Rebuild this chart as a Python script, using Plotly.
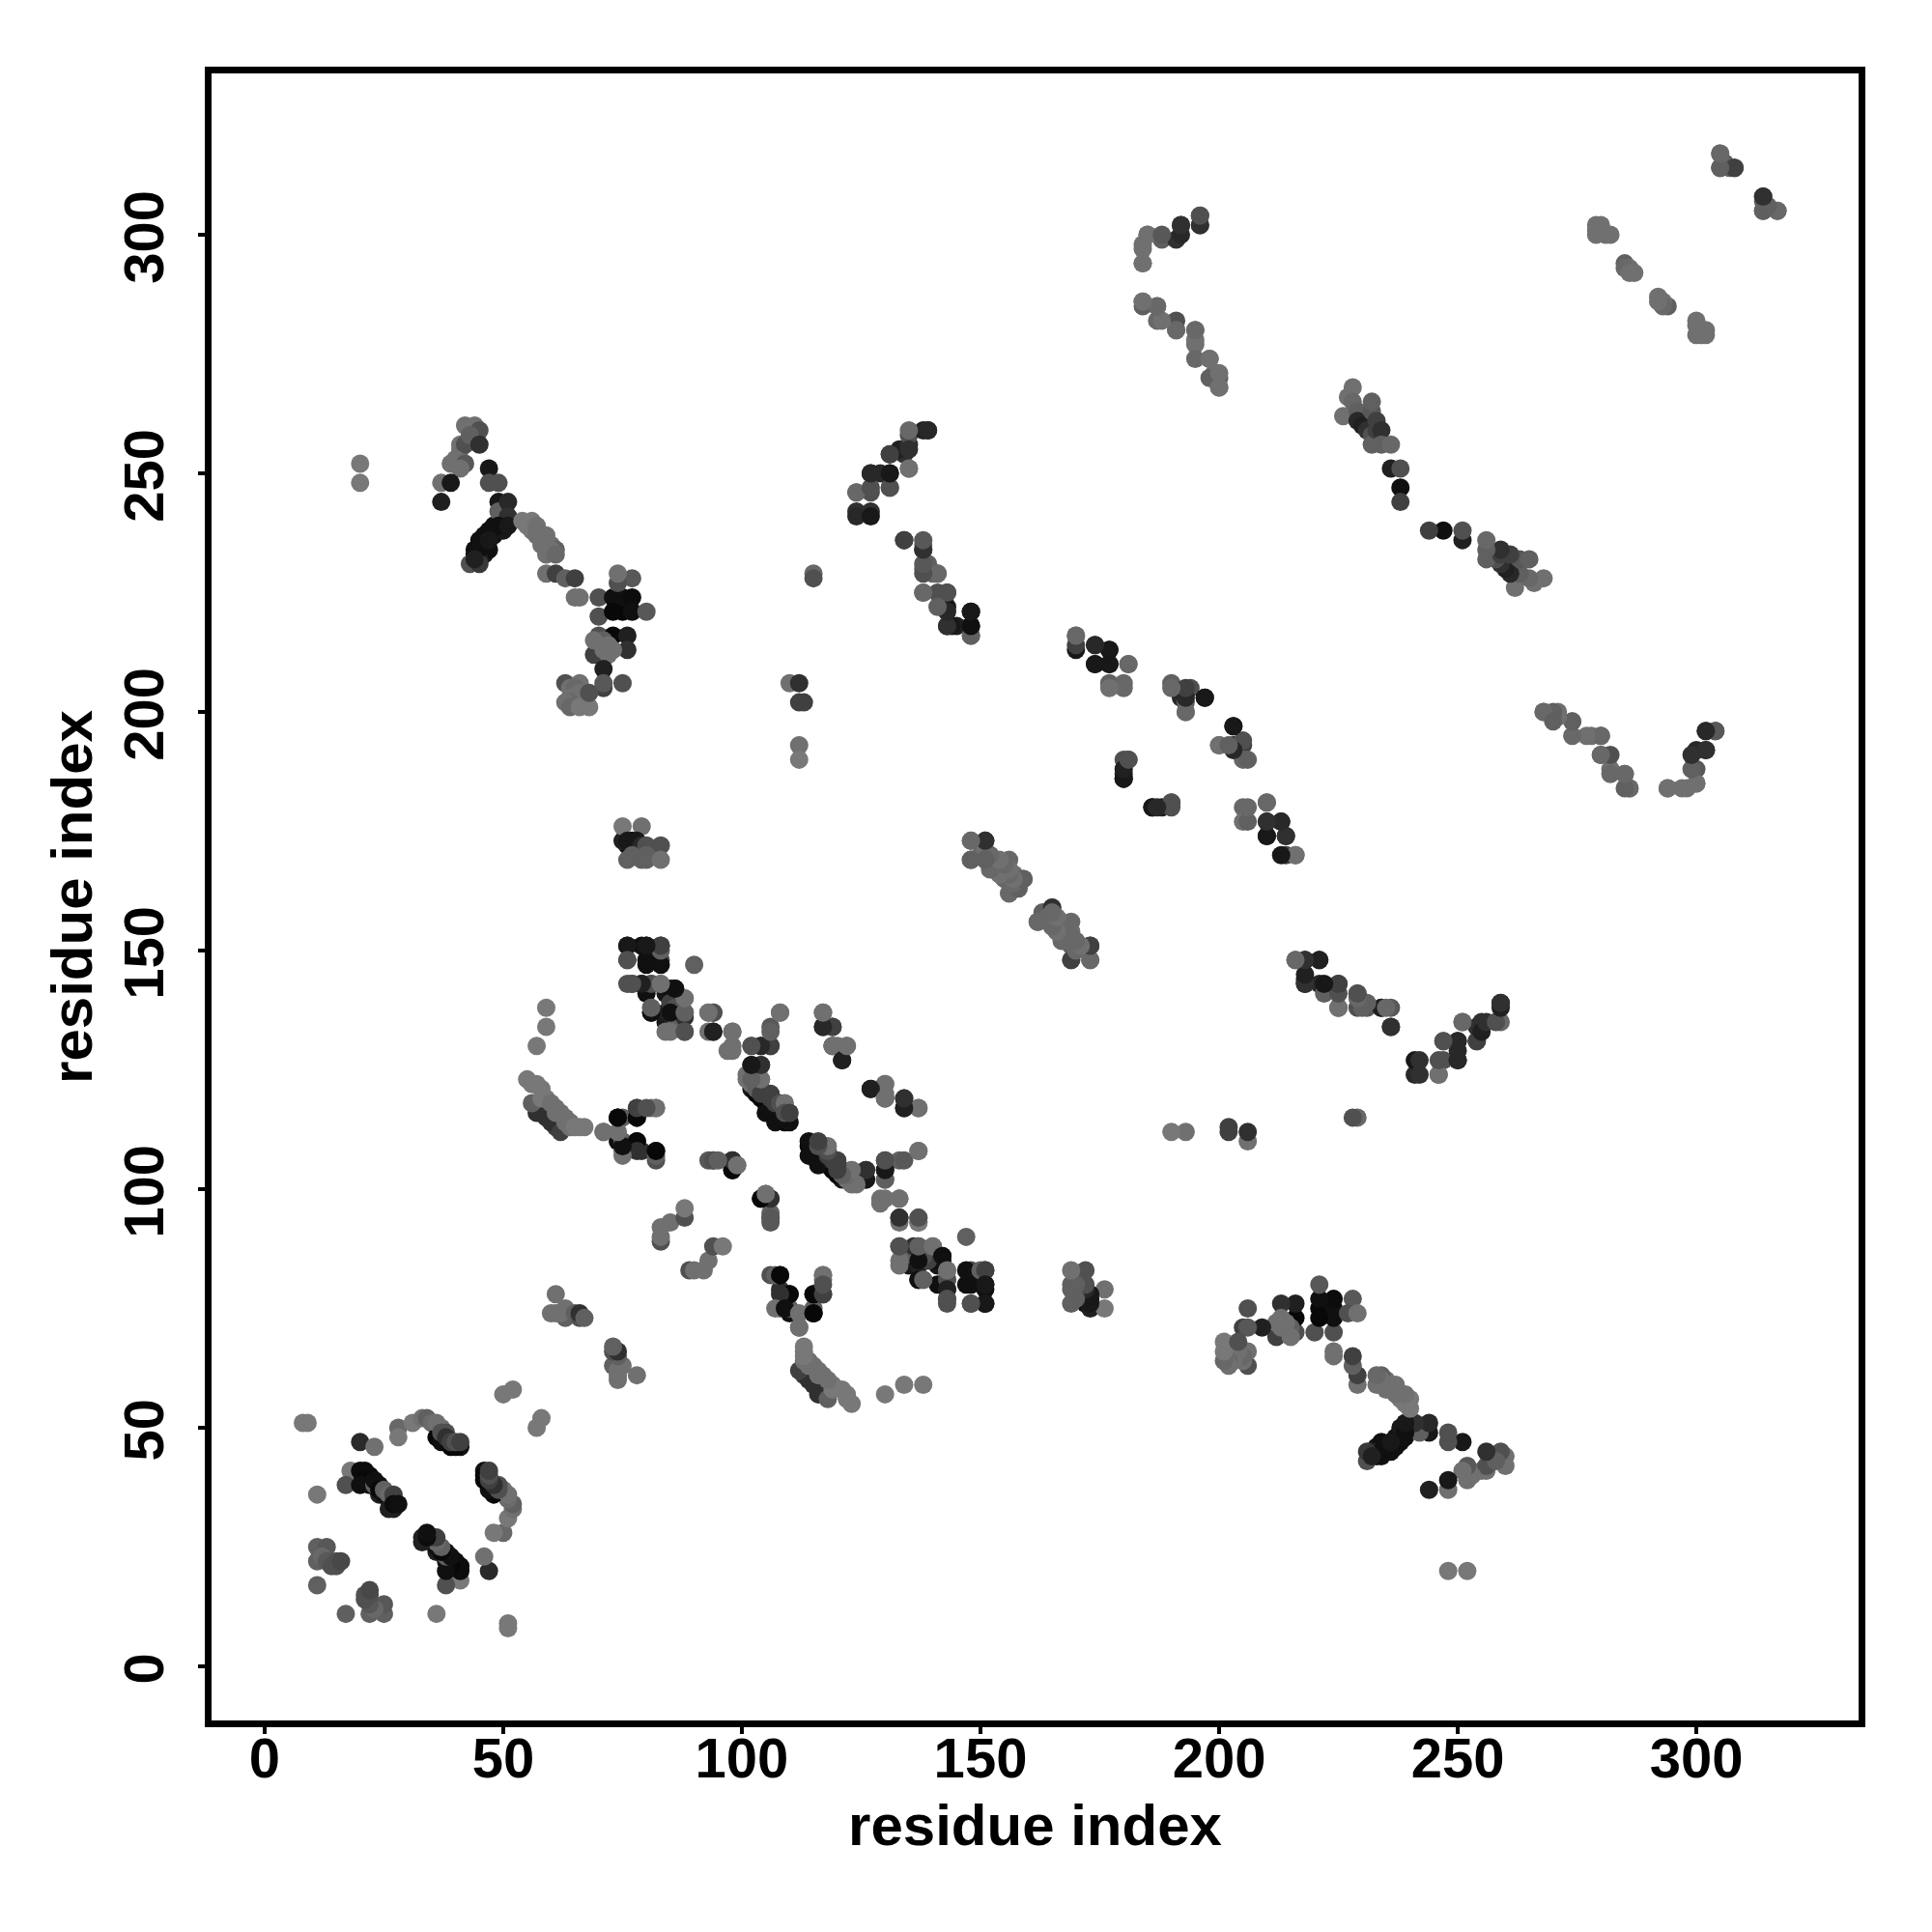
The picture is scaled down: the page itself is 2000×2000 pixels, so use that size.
import plotly.graph_objects as go

# (residue i, residue j, grey level); the map is symmetric so each contact is drawn both ways
dense_dark = [(22,40,0x08),(24,38,0x10),(26,35,0x10),(22,38,0x10),(24,36,0x20),(27,33,0x20),(38,47,0x10),(41,46,0x10),
    (102,121,0x18),(103,120,0x08),(104,119,0x08),(105,118,0x08),(106,117,0x08),(107,116,0x08),(108,115,0x08),(109,114,0x08),(110,114,0x10),(105,116,0x10),(107,114,0x10),
    (44,233,0x10),(44,234,0x10),(46,233,0x18),(46,235,0x10),(46,237,0x10),(47,234,0x10),(48,237,0x10),(48,239,0x10),(50,240,0x18),(50,238,0x18),(45,232,0x20),
    (74,223,0x10),(76,223,0x10),(75,221,0x08),(75,224,0x10),(57,117,0x30),(59,115,0x30),(61,113,0x40),(84,141,0x18),(84,135,0x18),
    (76,172,0x10),(75,173,0x20),(77,173,0x10)]
near_diagonal = [(8,51,0x78),(9,51,0x78),(20,47,0x2a),(23,46,0x70),(28,50,0x68),(28,48,0x78),(31,51,0x78),(33,52,0x70),
    (34,52,0x60),(35,51,0x6a),(36,48,0x08),(37,47,0x10),(39,46,0x08),(40,46,0x08),(36,51,0x70),(37,50,0x70),(38,49,0x50),(37,49,0x50),(38,48,0x30),(39,47,0x40),(40,47,0x50),(41,47,0x40),
    (18,41,0x78),(17,38,0x50),(11,36,0x78),(20,41,0x0c),(21,41,0x0c),(21,39,0x08),(20,38,0x10),(23,38,0x60),(23,39,0x10),
    (24,37,0x08),(25,36,0x10),(25,37,0x60),(26,36,0x68),(26,33,0x20),(27,35,0x50),(27,36,0x40),(27,34,0x0c),(28,34,0x10),
    (11,25,0x60),(13,25,0x58),(11,22,0x60),(12,23,0x68),(13,22,0x58),(14,21,0x50),(15,21,0x50),(15,22,0x50),(16,22,0x48),(11,17,0x60),
    (50,57,0x78),(52,58,0x78),(61,78,0x70),(60,74,0x70),(61,74,0x70),(63,73,0x60),(63,75,0x70),(62,74,0x70),(65,74,0x60),(66,73,0x50),(66,74,0x30),(67,73,0x60),
    (83,89,0x50),(83,90,0x70),(85,93,0x70),(88,94,0x50),(88,96,0x78),(83,92,0x70)]
helix_60_120 = [(59,138,0x78),(59,134,0x78),(57,130,0x78),(57,116,0x30),(60,114,0x30),(62,112,0x40),(56,118,0x60),(55,123,0x78),(57,122,0x78),(56,122,0x78),(58,121,0x78),
    (58,119,0x78),(59,119,0x78),(60,118,0x70),(61,117,0x70),(61,116,0x70),(62,116,0x70),(63,115,0x70),(63,114,0x70),(64,114,0x70),(64,113,0x70),(65,113,0x78),(66,113,0x78),(67,113,0x78),(71,112,0x70),(74,115,0x18),(75,115,0x60),(78,115,0x10),(78,117,0x40),(81,117,0x70),(82,117,0x70),
    (74,110,0x10),(75,108,0x68),(78,110,0x10),(75,110,0x60),(79,108,0x30),(82,106,0x50),(82,108,0x10)]
block_80_150 = [(76,151,0x10),(79,151,0x10),(80,151,0x10),(83,151,0x10),(76,148,0x40),(80,148,0x10),(83,148,0x50),(90,147,0x60),
    (76,143,0x50),(79,143,0x10),(81,143,0x60),(83,143,0x70),(80,141,0x10),(77,143,0x50),(85,142,0x10),(86,142,0x10),(88,140,0x70),(85,140,0x10),(81,137,0x10),(81,138,0x60),
    (84,137,0x20),(85,139,0x40),(86,138,0x50),(85,137,0x50),(87,135,0x50),(86,134,0x60),(88,137,0x60),(88,136,0x30),(84,133,0x70),(88,133,0x50),(93,137,0x78),(94,137,0x50),(93,133,0x70),(94,133,0x30),(98,133,0x70),(97,129,0x70),(98,130,0x70)]
block_100_137 = [(102,126,0x18),(104,121,0x18),(102,130,0x60),(104,130,0x18),(106,130,0x50),(106,134,0x58),(108,137,0x70),
    (104,126,0x30),(101,124,0x70),(101,123,0x70),(102,122,0x70),(103,122,0x68),(104,123,0x70),(103,121,0x60),(104,120,0x40),(105,120,0x40),(106,120,0x40),(106,119,0x40),(107,118,0x40),(108,118,0x50),(109,118,0x70),(109,116,0x50),(110,116,0x40),
    (117,137,0x70),(117,134,0x20),(119,134,0x30),(119,130,0x10),(120,130,0x70),(122,130,0x70),(121,127,0x20),(127,121,0x20)]
block_100_110 = [(123,104,0x70),(123,102,0x60),(126,104,0x30),(126,102,0x18),
    (130,106,0x40),(130,104,0x28),(130,102,0x50),(133,106,0x60),(137,108,0x70),(119,130,0x70)]
block_cross = [(130,122,0x70),(134,119,0x40),(134,117,0x28),(137,117,0x70)]
block_93_106 = [(93,106,0x58),(94,106,0x58),(98,106,0x30),(98,104,0x08),(99,105,0x70),(104,98,0x08),(106,98,0x30),(105,99,0x70),(106,94,0x50),(106,95,0x60)]
block_76_110 = [(129,98,0x70),(133,98,0x70),(133,94,0x20),(137,94,0x50),(137,93,0x70),
    (85,133,0x70),(88,133,0x50),(81,137,0x10),(81,138,0x60),(85,137,0x10),(88,137,0x60),(88,140,0x70),(86,142,0x10),(81,143,0x50),(79,143,0x20),
    (83,143,0x70),(77,143,0x50),(80,147,0x10),(80,148,0x10),(83,147,0x10),(83,150,0x60),(83,151,0x40),(80,151,0x18),(76,151,0x18),(76,148,0x50),
    (82,107,0x60),(82,108,0x08),(78,110,0x08),(78,108,0x30),(75,107,0x70),(75,109,0x10),(74,112,0x70),(71,112,0x70),(78,115,0x08),(78,117,0x40),(82,117,0x70),(80,117,0x50),(74,115,0x50),(74,115,0x08)]
block_upper_left = [(42,260,0x70),(44,260,0x70),(45,259,0x50),(41,256,0x70),(41,255,0x70),(42,256,0x50),(43,258,0x60),(45,256,0x30),(39,252,0x70),(40,253,0x70),(42,252,0x58),(41,251,0x70),
    (47,251,0x18),(37,248,0x70),(39,248,0x18),(37,244,0x20),(47,248,0x50),(49,248,0x50),(49,244,0x18),(49,242,0x60),(51,244,0x28),(51,241,0x30),
    (49,239,0x10),(47,238,0x10),(45,236,0x10),(45,234,0x10),(47,236,0x18),(43,231,0x50),(45,231,0x38),(44,232,0x20),(51,239,0x18),
    (54,240,0x78),(55,239,0x78),(56,240,0x78),(56,238,0x78),(57,239,0x70),(57,237,0x70),(58,237,0x70),(59,237,0x70),(58,236,0x70),(58,235,0x70),(60,235,0x70),(61,234,0x60),(59,233,0x70),(60,234,0x70),(61,233,0x68),(59,229,0x70),(61,229,0x40),(63,228,0x60),(65,228,0x40),(65,224,0x70),(66,224,0x70),
    (70,224,0x50),(70,220,0x50),(73,224,0x10),(77,224,0x0c),(73,221,0x08),(77,221,0x10),(80,221,0x58),(77,228,0x58),(74,227,0x50),(74,229,0x70),
    (70,216,0x50),(73,216,0x08),(76,216,0x20),(76,213,0x30),(69,212,0x40),(71,213,0x70),(71,215,0x60),(72,214,0x70),(72,212,0x70),(69,215,0x70),(73,213,0x70),(71,209,0x20),(71,205,0x40),(71,206,0x58),(75,206,0x50),
    (63,206,0x50),(66,206,0x70),(64,205,0x70),(65,205,0x68),(65,203,0x70),(64,203,0x70),(67,203,0x70),(66,204,0x70),(64,202,0x68),(63,202,0x70),(64,201,0x68),(66,201,0x78),(68,201,0x78),(68,204,0x50),(20,248,0x78),(20,252,0x78)]
block_upper_mid = [(75,176,0x78),(79,176,0x70),(76,173,0x18),(78,173,0x18),(79,172,0x28),(80,172,0x50),(83,172,0x50),(76,169,0x60),(77,170,0x60),(80,170,0x60),(79,169,0x60),(80,169,0x60),(83,169,0x70),
    (110,206,0x70),(112,206,0x30),(112,202,0x40),(113,202,0x40),(112,193,0x70),(112,190,0x78),(115,229,0x68),(115,228,0x50),
    (124,242,0x30),(127,242,0x30),(124,246,0x70),(127,246,0x50),(127,250,0x28),(129,250,0x28),(131,250,0x28),(131,247,0x50),(131,254,0x40),(134,254,0x30),(133,255,0x20),(135,251,0x68),(135,256,0x30),(135,258,0x50),(138,259,0x20),(139,259,0x30),
    (134,236,0x30),(138,234,0x20),(138,235,0x68),(138,230,0x60),(139,231,0x60),(140,229,0x68),(141,229,0x50),(138,225,0x70),(141,225,0x50),(143,225,0x40),(143,222,0x18),(143,218,0x30),(145,218,0x20),(148,221,0x20),(148,218,0x30),(148,216,0x68)]
block_sheet = [(148,173,0x68),(151,173,0x40),(148,169,0x40),(150,170,0x68),(151,171,0x70),(152,170,0x68),(152,168,0x68),(153,169,0x68),(153,167,0x68),(154,168,0x68),(155,167,0x68),(156,169,0x68),(154,166,0x70),(155,165,0x68),(156,165,0x68),(157,166,0x70),(159,165,0x30),(158,165,0x68),(156,162,0x68),
    (162,156,0x68),(163,158,0x60),(164,157,0x68),(165,159,0x60),(165,157,0x70),(166,156,0x68),(167,156,0x70),(166,154,0x70),(168,155,0x68),(168,153,0x68),(167,152,0x68),(169,154,0x70),(170,152,0x68),(169,151,0x60),(169,148,0x60),(173,151,0x30),(173,148,0x68),
    (170,216,0x70),(170,213,0x18),(174,214,0x30),(174,210,0x18),(177,213,0x28),(177,210,0x30),(181,210,0x68),(177,206,0x60),(180,206,0x68),
    (180,190,0x50),(181,190,0x50),(180,186,0x18),(180,187,0x28),(186,180,0x18),(188,180,0x20),(190,181,0x50),
    (190,206,0x60),(194,205,0x50),(192,203,0x28),(197,203,0x18),(193,200,0x70),(193,202,0x60),(200,193,0x68),(203,197,0x18),(203,193,0x28),(205,193,0x40),(205,190,0x68),
    (205,180,0x68),(205,177,0x70),(210,181,0x68),(210,177,0x18),(213,177,0x18),(210,174,0x18),(214,174,0x28),(214,170,0x40),(216,170,0x68),
    (216,148,0x60),(218,148,0x10),(221,148,0x18),(218,144,0x18),(218,143,0x30),(221,143,0x28),(225,143,0x50),(222,141,0x60),(225,138,0x68),(229,141,0x68),(229,138,0x50),(231,138,0x58),(234,138,0x30),(236,138,0x58),(236,134,0x40),
    (241,124,0x28),(241,127,0x18),(246,124,0x68),(247,127,0x50),(247,131,0x50),(250,127,0x28),(250,131,0x18),(251,135,0x70),(254,131,0x40),(255,135,0x30),(259,135,0x68),(259,139,0x28)]
block_upper_right = [(305,317,0x68),(305,314,0x60),(306,315,0x60),(307,314,0x60),(308,314,0x30),(314,308,0x40),(314,305,0x60),(317,305,0x68),
    (279,302,0x70),(279,301,0x70),(280,302,0x70),(279,300,0x70),(281,300,0x70),(282,300,0x70),(285,294,0x60),(287,292,0x70),(286,293,0x70),(285,293,0x68),(286,292,0x70),
    (184,298,0x70),(184,294,0x70),(185,300,0x70),(188,299,0x60),(191,299,0x30),(192,302,0x30),(196,304,0x58),(196,302,0x28),
    (184,286,0x68),(184,285,0x60),(187,285,0x68),(187,282,0x68),(191,282,0x50),(191,280,0x68),(195,280,0x68),(195,277,0x70),(195,274,0x68),(198,274,0x60),(199,271,0x70),(200,270,0x60),(200,268,0x68),(198,270,0x60),
    (268,200,0x70),(271,200,0x70),(274,198,0x70),(278,195,0x70),(280,195,0x68),(280,191,0x68),(282,188,0x70),(285,187,0x68),(286,184,0x70),(294,184,0x70),(297,184,0x70),(300,185,0x70),(300,188,0x58),(300,192,0x28),(302,192,0x30),(302,196,0x30),(304,196,0x50),
    (226,262,0x70),(228,268,0x70),(227,266,0x70),(228,265,0x68),(229,263,0x60),(229,261,0x28),(230,260,0x20),(231,259,0x30),(232,258,0x50),(232,263,0x58),(232,265,0x60),(233,261,0x40),(232,256,0x60),(233,259,0x40),(234,259,0x30),(234,256,0x60),(236,256,0x68),
    (236,251,0x20),(238,251,0x50),(238,247,0x10),(238,244,0x40)]

blocks = [dense_dark, near_diagonal, helix_60_120, block_80_150, block_100_137, block_100_110, block_cross, block_93_106, block_76_110,
          block_upper_left, block_upper_mid, block_sheet, block_upper_right]

contacts = [c for b in blocks for c in b]
res_x = [c[0] for c in contacts] + [c[1] for c in contacts]
res_y = [c[1] for c in contacts] + [c[0] for c in contacts]
shade = [c[2] for c in contacts] * 2
colors = [f"rgb({g},{g},{g})" for g in shade]

tick_values = [0, 50, 100, 150, 200, 250, 300]
tick_labels = ["0", "50", "100", "150", "200", "250", "300"]
TICK_FONT = dict(family="Liberation Sans", size=58, color="black", weight=700)
TITLE_FONT = dict(family="Liberation Sans", size=60, color="black", weight=700)

fig = go.Figure(go.Scatter(x=res_x, y=res_y, mode="markers",
                           marker=dict(size=19, color=colors, line=dict(width=0)),
                           showlegend=False, hoverinfo="skip"))
common = dict(tickfont=TICK_FONT, tickmode="array", tickvals=tick_values, ticktext=tick_labels,
              showgrid=False, zeroline=False, showline=True, mirror=True, linecolor="black", linewidth=7,
              ticks="outside", ticklen=7, tickwidth=4, tickcolor="black")
fig.update_xaxes(range=[-11.13, 334.0], ticklabelstandoff=-25,
                 title=dict(text="residue index", font=TITLE_FONT, standoff=20), **common)
fig.update_yaxes(range=[-11.34, 333.8], tickangle=-90, ticklabelstandoff=13, ticklabelshift=11,
                 title=dict(text="residue index", font=TITLE_FONT, standoff=3), **common)
fig.update_layout(width=2000, height=2000, autosize=False, paper_bgcolor="white", plot_bgcolor="white",
                  margin=dict(l=211, r=84, t=68, b=227, pad=0))
fig.write_html("out.html")
